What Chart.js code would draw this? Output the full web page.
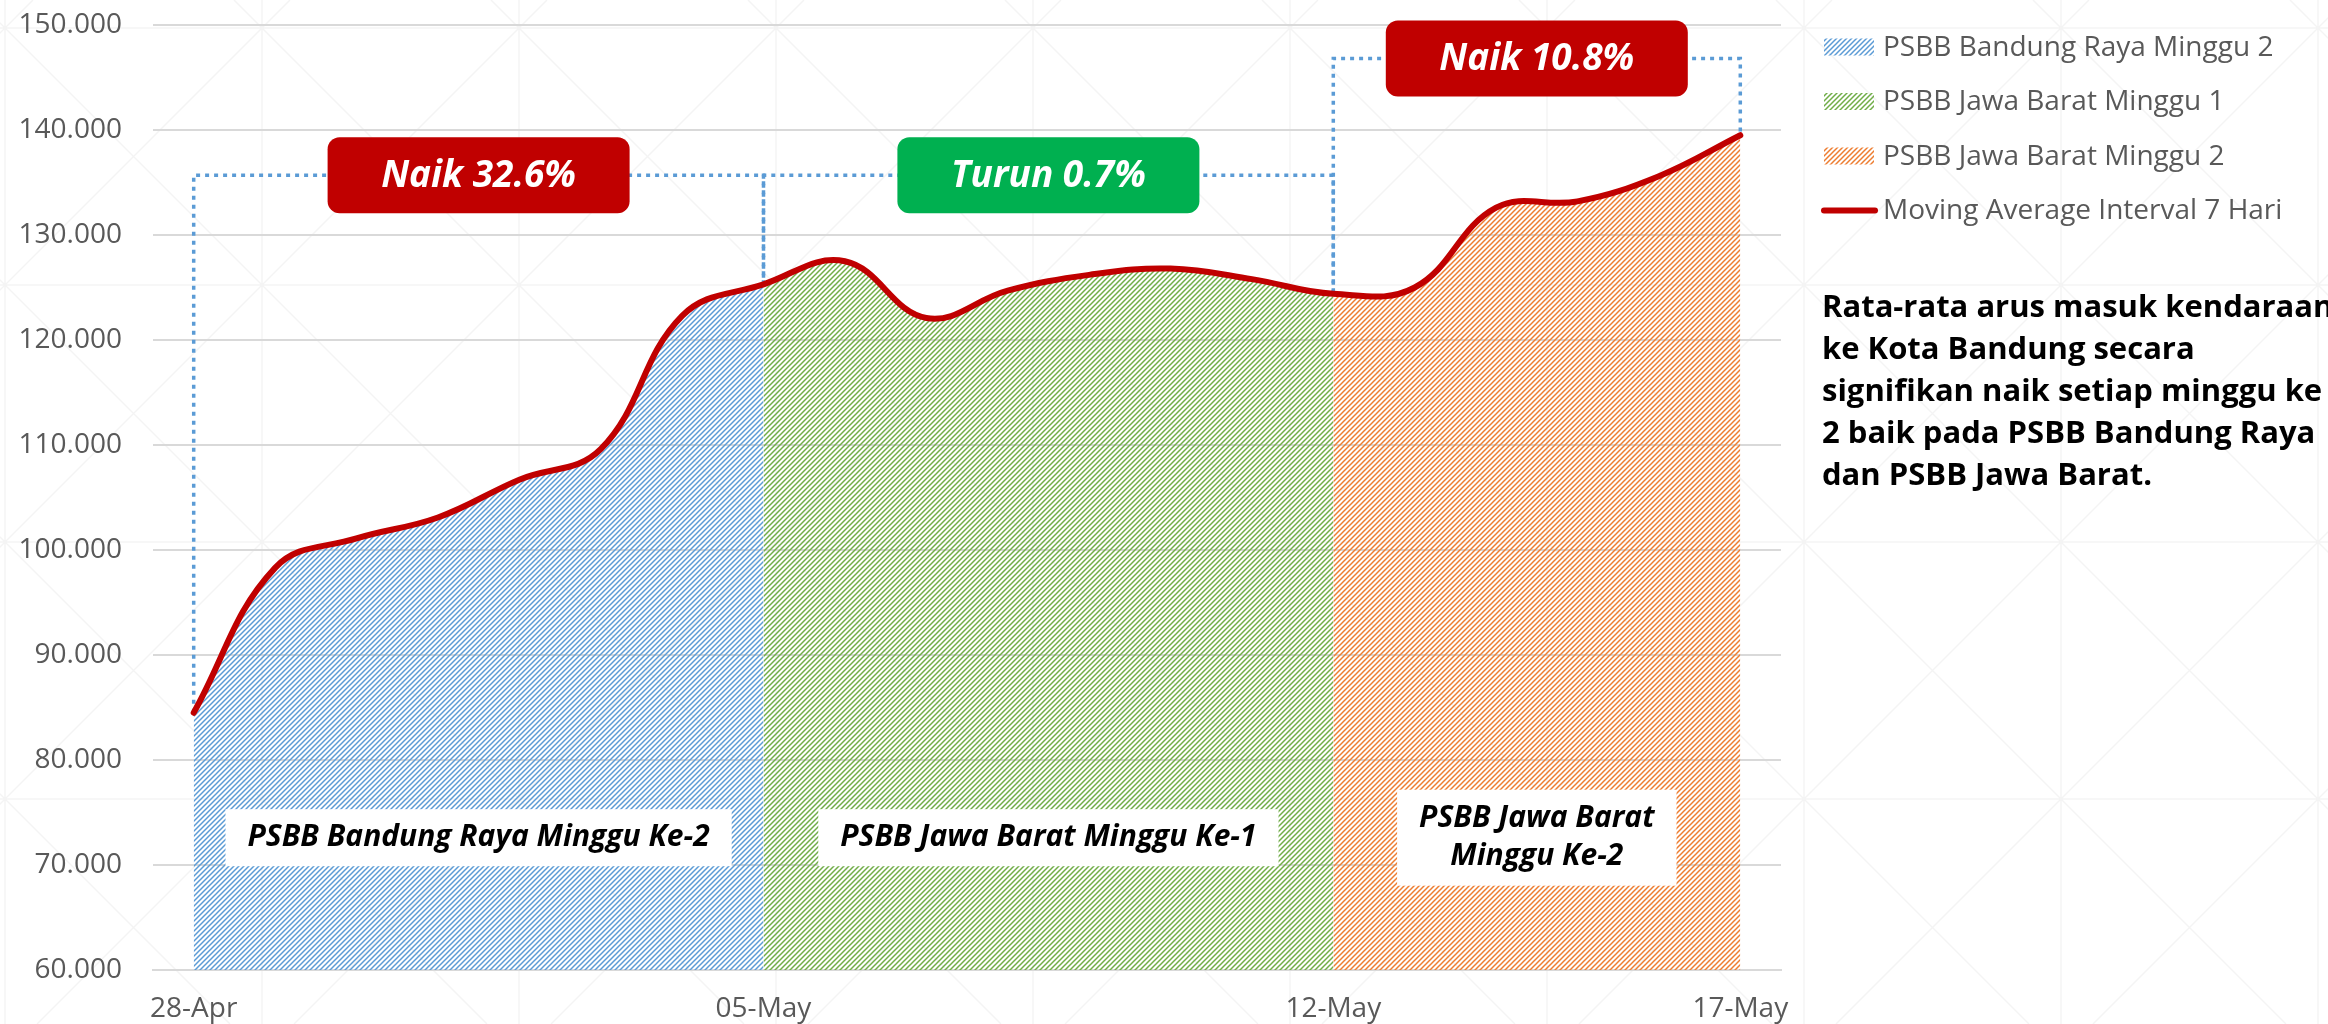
<!DOCTYPE html>
<html lang="id">
<head>
<meta charset="UTF-8">
<title>Arus Masuk Kendaraan ke Kota Bandung</title>
<script src="https://cdn.jsdelivr.net/npm/chart.js@4"></script>
<style>
  html, body { margin: 0; padding: 0; background: #fff; }
  body { width: 2328px; height: 1024px; overflow: hidden; position: relative; font-family: 'Open Sans', sans-serif; }
  #wrap { position: absolute; left: 0; top: 0; width: 2328px; height: 1024px; }
  #note {
    position: absolute; left: 1822px; top: 284px;
    font-weight: 700; font-size: 31px; line-height: 42px;
    color: #000; white-space: nowrap;
  }
</style>
</head>
<body>
<div id="wrap"><canvas id="chart"></canvas></div>
<div id="note">Rata-rata arus masuk kendaraan<br>ke Kota Bandung secara<br>signifikan naik setiap minggu ke<br>2 baik pada PSBB Bandung Raya<br>dan PSBB Jawa Barat.</div>

<script>
// --- data ---
const dates = ['28-Apr', '29-Apr', '30-Apr', '01-May', '02-May', '03-May', '04-May',
               '05-May', '06-May', '07-May', '08-May', '09-May', '10-May', '11-May',
               '12-May', '13-May', '14-May', '15-May', '16-May', '17-May'];
const movingAvg = [84500, 98300, 101100, 103100, 106700, 109600, 122300,
                   125300, 127500, 122100, 124700, 126200, 126800, 125800,
                   124400, 125000, 132600, 133200, 135600, 139500];
const shownDates = ['28-Apr', '05-May', '12-May', '17-May'];

const phaseNames = ['PSBB Bandung Raya Minggu 2', 'PSBB Jawa Barat Minggu 1', 'PSBB Jawa Barat Minggu 2'];
const phaseStart = [0, 7, 14];
const phaseEnd = [7, 14, 19];
const phaseColors = ['#5B9BD5', '#70AD47', '#ED7D31'];
const phaseTags = [['PSBB Bandung Raya Minggu Ke-2'], ['PSBB Jawa Barat Minggu Ke-1'], ['PSBB Jawa Barat', 'Minggu Ke-2']];

const changeText = ['Naik 32.6%', 'Turun 0.7%', 'Naik 10.8%'];
const changeColors = ['#C00000', '#00B050', '#C00000'];
const bracketLevels = [135700, 135700, 146800];
const tagLevel = 72600;

const lineLabel = 'Moving Average Interval 7 Hari';

// --- helpers ---
const canvas = document.getElementById('chart');
const ctx0 = canvas.getContext('2d');

function makeHatch(color) {
    const c = document.createElement('canvas');
    c.width = 5; c.height = 5;
    const g = c.getContext('2d');
    g.strokeStyle = color;
    g.lineWidth = 1.5;
    g.beginPath();
    g.moveTo(0, 5); g.lineTo(5, 0);
    g.moveTo(-1, 1); g.lineTo(1, -1);
    g.moveTo(4, 6); g.lineTo(6, 4);
    g.stroke();
    return ctx0.createPattern(c, 'repeat');
}

function fmt(v) {
    return String(v).replace(/\B(?=(\d{3})+(?!\d))/g, '.');
}

// faint slide background: squares with crossed diagonals
const backdrop = {
    id: 'backdrop',
    beforeDraw(chart) {
        const { ctx, width, height } = chart;
        const cell = 257, ox = 5, oy = 28;
        ctx.save();
        ctx.fillStyle = '#fff';
        ctx.fillRect(0, 0, width, height);
        ctx.strokeStyle = 'rgba(0,0,0,0.045)';
        ctx.lineWidth = 1.5;
        ctx.beginPath();
        for (let x = ox; x < width; x += cell) { ctx.moveTo(x, 0); ctx.lineTo(x, height); }
        for (let y = oy; y < height; y += cell) { ctx.moveTo(0, y); ctx.lineTo(width, y); }
        for (let k = -6; k < 14; k++) {
            const a = ox - oy + k * cell;
            ctx.moveTo(a, 0); ctx.lineTo(a + height, height);
            const b = ox + oy + k * cell;
            ctx.moveTo(b, 0); ctx.lineTo(b - height, height);
        }
        ctx.stroke();
        ctx.restore();
    }
};

// dotted brackets between the week boundaries
const brackets = {
    id: 'brackets',
    beforeDatasetsDraw(chart) {
        const { ctx, scales: { x, y } } = chart;
        ctx.save();
        ctx.strokeStyle = '#5B9BD5';
        ctx.lineWidth = 3.5;
        ctx.setLineDash([4, 5]);
        phaseStart.forEach((s, k) => {
            const e = phaseEnd[k];
            const top = y.getPixelForValue(bracketLevels[k]);
            ctx.beginPath();
            ctx.moveTo(x.getPixelForValue(s), y.getPixelForValue(movingAvg[s]));
            ctx.lineTo(x.getPixelForValue(s), top);
            ctx.lineTo(x.getPixelForValue(e), top);
            ctx.lineTo(x.getPixelForValue(e), y.getPixelForValue(movingAvg[e]));
            ctx.stroke();
        });
        ctx.restore();
    }
};

// rounded change boxes + white week tags
const callouts = {
    id: 'callouts',
    afterDatasetsDraw(chart) {
        const { ctx, scales: { x, y } } = chart;
        ctx.save();
        ctx.textAlign = 'center';
        ctx.textBaseline = 'middle';
        phaseStart.forEach((s, k) => {
            const e = phaseEnd[k];
            const cx = (x.getPixelForValue(s) + x.getPixelForValue(e)) / 2;

            // week tag
            const lines = phaseTags[k];
            ctx.font = 'italic 700 30px "Open Sans"';
            const w = Math.max(...lines.map(t => ctx.measureText(t).width)) + 44;
            const h = lines.length === 1 ? 57 : 96;
            const ty = y.getPixelForValue(tagLevel);
            ctx.fillStyle = '#fff';
            ctx.fillRect(cx - w / 2, ty - h / 2, w, h);
            ctx.fillStyle = '#000';
            lines.forEach((t, j) => {
                ctx.fillText(t, cx, ty + (j - (lines.length - 1) / 2) * 38);
            });

            // change box
            const by = y.getPixelForValue(bracketLevels[k]);
            ctx.fillStyle = changeColors[k];
            ctx.beginPath();
            ctx.roundRect(cx - 151, by - 38, 302, 76, 12);
            ctx.fill();
            ctx.fillStyle = '#fff';
            ctx.font = 'italic 700 37px "Open Sans"';
            ctx.fillText(changeText[k], cx, by + 1);
        });
        ctx.restore();
    }
};

// legend on the right, built from the datasets
const sideLegend = {
    id: 'sideLegend',
    afterDraw(chart) {
        const { ctx } = chart;
        ctx.save();
        ctx.font = '28px "Open Sans"';
        ctx.textBaseline = 'middle';
        ctx.textAlign = 'left';
        chart.data.datasets.forEach((ds, i) => {
            const ly = 47 + i * 54.5;
            if (ds.fill) {
                ctx.fillStyle = ds.backgroundColor;
                ctx.fillRect(1824, ly - 8.5, 50, 17);
            } else {
                ctx.strokeStyle = ds.borderColor;
                ctx.lineWidth = 6;
                ctx.lineCap = 'round';
                ctx.beginPath();
                ctx.moveTo(1824, ly);
                ctx.lineTo(1875, ly);
                ctx.stroke();
            }
            ctx.fillStyle = '#595959';
            ctx.fillText(ds.label, 1883, ly + 1);
        });
        ctx.restore();
    }
};

Chart.defaults.font.family = "'Open Sans', sans-serif";
Chart.defaults.color = '#595959';

const areaSets = phaseNames.map((name, k) => ({
    label: name,
    data: movingAvg.map((v, i) => (i >= phaseStart[k] && i <= phaseEnd[k]) ? v : null),
    backgroundColor: makeHatch(phaseColors[k]),
    borderWidth: 0,
    pointRadius: 0,
    tension: 0.4,
    fill: 'start',
    order: 1
}));

new Chart(canvas, {
    type: 'line',
    data: {
        labels: dates,
        datasets: [...areaSets, {
            label: lineLabel,
            data: movingAvg,
            borderColor: '#C00000',
            borderWidth: 6,
            borderCapStyle: 'round',
            borderJoinStyle: 'round',
            pointRadius: 0,
            tension: 0.4,
            fill: false,
            order: 0
        }]
    },
    options: {
        responsive: true,
        maintainAspectRatio: false,
        animation: false,
        devicePixelRatio: 1,
        layout: { padding: { left: 0, right: 547, top: 25, bottom: 0 } },
        plugins: {
            legend: { display: false },
            tooltip: { enabled: false }
        },
        scales: {
            x: {
                offset: true,
                grid: { display: false },
                border: { display: true, color: '#D9D9D9', width: 2 },
                ticks: {
                    autoSkip: false,
                    maxRotation: 0,
                    padding: 14,
                    font: { size: 28 },
                    color: '#595959',
                    callback: function (value) {
                        const l = this.getLabelForValue(value);
                        return shownDates.includes(l) ? l : '';
                    }
                },
                afterFit: (s) => { s.height = 54; }
            },
            y: {
                min: 60000,
                max: 150000,
                grid: { color: '#D9D9D9', lineWidth: 2, drawTicks: false },
                border: { display: false },
                ticks: {
                    stepSize: 10000,
                    padding: 31,
                    font: { size: 28 },
                    color: '#595959',
                    callback: (v) => fmt(v)
                },
                afterFit: (s) => {
                    s.width = 153;
                    s.paddingTop = 0;
                    s.paddingBottom = 0;
                }
            }
        }
    },
    plugins: [backdrop, brackets, callouts, sideLegend]
});
</script>
</body>
</html>
